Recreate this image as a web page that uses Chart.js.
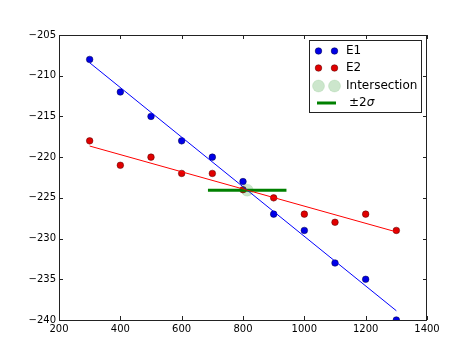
<!DOCTYPE html>
<html>
<head>
<meta charset="utf-8">
<script src="https://cdn.jsdelivr.net/npm/chart.js@4"></script>
<style>
  html,body{margin:0;padding:0;background:#fff;}
  #wrap{width:474px;height:355px;position:relative;}
</style>
</head>
<body>
<div id="wrap"><canvas id="c" width="474" height="355"></canvas></div>
<script>
// ---- data ----
const xValues = [300, 400, 500, 600, 700, 800, 900, 1000, 1100, 1200, 1300];
const e1Values = [-208, -212, -215, -218, -220, -223, -227, -229, -233, -235, -240];
const e2Values = [-218, -221, -220, -222, -222, -224, -225, -227, -228, -227, -229];
const sigma = 64;
const xTicks = [200, 400, 600, 800, 1000, 1200, 1400];
const yTicks = [-240, -235, -230, -225, -220, -215, -210, -205];
const seriesLabels = ['E1', 'E2', 'Intersection', '\u00b12\u03c3'];

// linear least-squares fit of each series
function fit(xs, ys) {
  const n = xs.length;
  const mx = xs.reduce((a, b) => a + b, 0) / n;
  const my = ys.reduce((a, b) => a + b, 0) / n;
  let sxy = 0, sxx = 0;
  for (let i = 0; i < n; i++) { sxy += (xs[i] - mx) * (ys[i] - my); sxx += (xs[i] - mx) ** 2; }
  const m = sxy / sxx;
  return { m, b: my - m * mx };
}
const f1 = fit(xValues, e1Values);
const f2 = fit(xValues, e2Values);
const xFirst = xValues[0], xLast = xValues[xValues.length - 1];
const line1 = [{x: xFirst, y: f1.m * xFirst + f1.b}, {x: xLast, y: f1.m * xLast + f1.b}];
const line2 = [{x: xFirst, y: f2.m * xFirst + f2.b}, {x: xLast, y: f2.m * xLast + f2.b}];
const xi = (f2.b - f1.b) / (f1.m - f2.m);
const yi = f1.m * xi + f1.b;
const sigmaLine = [{x: xi - 2 * sigma, y: yi}, {x: xi + 2 * sigma, y: yi}];

const pts = (ys) => xValues.map((x, i) => ({x, y: ys[i]}));

const BLUE = '#0000e6', BLUE_EDGE = '#000040';
const RED = '#e00000', RED_EDGE = '#500000';
const GREEN = '#008000';
const INTER = 'rgba(0,128,0,0.2)';
const FONT = '"DejaVu Sans", sans-serif';

const frameTicks = {
  id: 'frameTicks',
  afterDatasetsDraw(chart) {
    const ctx = chart.ctx, a = chart.chartArea;
    const xs = chart.scales.x, ys = chart.scales.y;
    const L = 4;
    ctx.save();
    ctx.strokeStyle = '#222';
    ctx.lineWidth = 1;
    ctx.beginPath();
    xTicks.forEach(v => {
      const p = Math.round(xs.getPixelForValue(v)) + 0.5;
      ctx.moveTo(p, a.bottom); ctx.lineTo(p, a.bottom - L);
      ctx.moveTo(p, a.top); ctx.lineTo(p, a.top + L);
    });
    yTicks.forEach(v => {
      const p = Math.round(ys.getPixelForValue(v)) + 0.5;
      ctx.moveTo(a.left, p); ctx.lineTo(a.left + L, p);
      ctx.moveTo(a.right, p); ctx.lineTo(a.right - L, p);
    });
    ctx.stroke();
    ctx.strokeRect(Math.round(a.left) + 0.5, Math.round(a.top) + 0.5,
                   Math.round(a.right - a.left) - 1, Math.round(a.bottom - a.top));
    ctx.restore();
  }
};

const legendBox = {
  id: 'legendBox',
  afterDraw(chart) {
    const ctx = chart.ctx;
    const bx = 309.5, by = 40.5, bw = 112, bh = 72;
    ctx.save();
    ctx.fillStyle = '#fff';
    ctx.strokeStyle = '#222';
    ctx.lineWidth = 1;
    ctx.fillRect(bx, by, bw, bh);
    ctx.strokeRect(bx, by, bw, bh);
    const rows = [51, 68, 86, 103];
    const m1 = 318.5, m2 = 334.5, tx = 346;
    function dot(x, y, r, fill, edge) {
      ctx.beginPath(); ctx.arc(x, y, r, 0, Math.PI * 2);
      ctx.fillStyle = fill; ctx.fill();
      if (edge) { ctx.lineWidth = 0.5; ctx.strokeStyle = edge; ctx.stroke(); }
    }
    dot(m1, rows[0], 3.3, BLUE, BLUE_EDGE); dot(m2, rows[0], 3.3, BLUE, BLUE_EDGE);
    dot(m1, rows[1], 3.3, RED, RED_EDGE); dot(m2, rows[1], 3.3, RED, RED_EDGE);
    dot(m1, rows[2], 6, INTER, INTER); dot(m2, rows[2], 6, INTER, INTER);
    ctx.beginPath(); ctx.moveTo(317, rows[3]); ctx.lineTo(336, rows[3]);
    ctx.lineWidth = 3; ctx.strokeStyle = GREEN; ctx.stroke();
    ctx.fillStyle = '#000';
    ctx.textBaseline = 'middle';
    ctx.font = '12px ' + FONT;
    ctx.fillText(seriesLabels[0], tx, rows[0]);
    ctx.fillText(seriesLabels[1], tx, rows[1]);
    ctx.fillText(seriesLabels[2], tx, rows[2]);
    const s = seriesLabels[3];
    const head = s.slice(0, 2), tail = s.slice(2);
    ctx.font = '12px ' + FONT;
    ctx.fillText(head, tx + 3, rows[3]);
    const w = ctx.measureText(head).width;
    ctx.font = 'italic 12px ' + FONT;
    ctx.fillText(tail, tx + 3 + w, rows[3]);
    ctx.restore();
  }
};

const minus = v => (v < 0 ? '\u2212' + Math.abs(v) : String(v));

new Chart(document.getElementById('c'), {
  type: 'scatter',
  data: {
    datasets: [
      {label: seriesLabels[0], data: pts(e1Values), showLine: false, pointRadius: 3.3,
       backgroundColor: BLUE, borderColor: BLUE_EDGE, borderWidth: 0.5, order: 6},
      {label: seriesLabels[1], data: pts(e2Values), showLine: false, pointRadius: 3.3,
       backgroundColor: RED, borderColor: RED_EDGE, borderWidth: 0.5, order: 5},
      {label: seriesLabels[3], data: sigmaLine, showLine: true, pointRadius: 0,
       borderColor: GREEN, borderWidth: 3, order: 4},
      {label: 'fit1', data: line1, showLine: true, pointRadius: 0, borderColor: '#0000ff',
       borderWidth: 1, order: 3},
      {label: 'fit2', data: line2, showLine: true, pointRadius: 0, borderColor: '#ff0000',
       borderWidth: 1, order: 2},
      {label: seriesLabels[2], data: [{x: xi, y: yi}], showLine: false, pointRadius: 6,
       backgroundColor: INTER, borderColor: INTER, borderWidth: 0.5, order: 1}
    ]
  },
  options: {
    responsive: false,
    animation: false,
    devicePixelRatio: 1,
    layout: {padding: {left: 0, top: 35, right: 47, bottom: 0}},
    plugins: {legend: {display: false}, tooltip: {enabled: false}},
    scales: {
      x: {
        type: 'linear', min: 200, max: 1400,
        afterFit: s => { s.height = 35; },
        afterBuildTicks: s => { s.ticks = xTicks.map(v => ({value: v})); },
        grid: {display: false, drawTicks: false},
        border: {display: false},
        ticks: {padding: 3, color: '#000', font: {family: FONT, size: 10}, callback: minus, maxRotation: 0}
      },
      y: {
        type: 'linear', min: -240, max: -205,
        afterFit: s => { s.width = 59; },
        afterBuildTicks: s => { s.ticks = yTicks.map(v => ({value: v})); },
        grid: {display: false, drawTicks: false},
        border: {display: false},
        ticks: {padding: 3, color: '#000', font: {family: FONT, size: 10}, callback: minus}
      }
    }
  },
  plugins: [frameTicks, legendBox]
});
</script>
</body>
</html>
